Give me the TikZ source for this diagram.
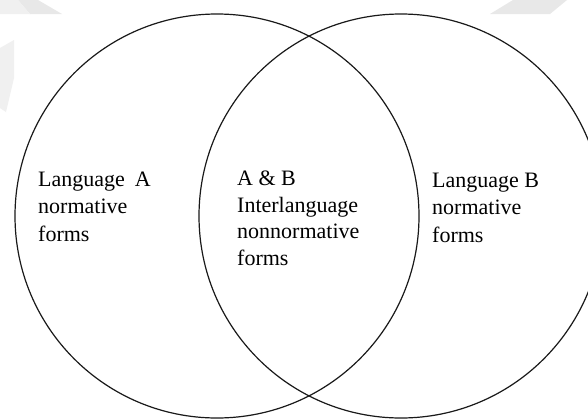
\documentclass[tikz,border=0pt]{standalone}
\usepackage{fontspec}
\setmainfont{Liberation Serif}
\begin{document}
\begin{tikzpicture}[x=1pt,y=-1pt,
  setcircle/.style={draw=black!90, line width=1.2pt, circle, inner sep=0pt, minimum size=404pt},
  settext/.style={anchor=base west, align=left, inner sep=0pt,
    font=\fontsize{22}{27.5}\selectfont},
  faint/.style={fill=black!9, draw=none}]
  % page frame
  \path[fill=white] (0,0) rectangle (588,418);
  \useasboundingbox (0,0) rectangle (588,418);
  \clip (0,0) rectangle (588,418);
  % faint marks in the margin strips
  \fill[faint] (18,0) -- (38,0) -- (62,14) -- (30,14) -- cycle;
  \fill[faint, fill=black!6] (0,0) -- (18,0) -- (30,14) -- (0,14) -- cycle;
  \fill[faint, fill=black!6] (0,48) -- (14,40) -- (14,78) -- (6,112) -- (0,108) -- cycle;
  \fill[faint] (513,0) -- (567,0) -- (550,14) -- (490,14) -- cycle;
  % the two sets
  \node[setcircle] (setA) at (217,216) {};
  \node[setcircle] (setB) at (401,216) {};
  % labels (anchored at the baseline of their last line)
  \node[settext] (textA) at (38,241)
    {Language\hspace{0.45em}A\\normative\\forms};
  \node[settext, font=\fontsize{22}{26.5}\selectfont] (textAB) at (237,265)
    {A \& B\\Interlanguage\\nonnormative\\forms};
  \node[settext] (textB) at (432,242)
    {Language B\\normative\\forms};
\end{tikzpicture}
\end{document}
